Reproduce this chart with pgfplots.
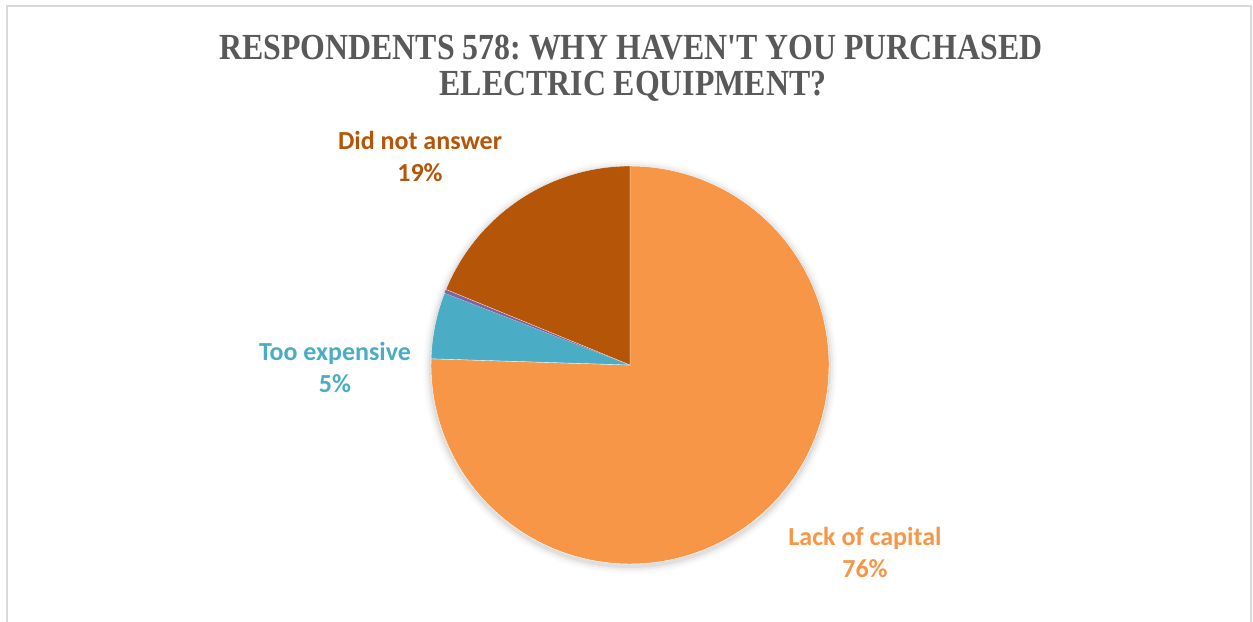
\documentclass[border=0pt]{standalone}
\usepackage{pgfplots}
\pgfplotsset{compat=1.18}
\usepackage{pgfplotstable}
\usepackage{graphicx}
\usepackage{fontspec}
\newfontfamily\titlefont{Liberation Serif}
\newfontfamily\labelfont{Carlito}
\definecolor{cLack}{HTML}{F79646}
\definecolor{cExp}{HTML}{4BACC6}
\definecolor{cOther}{HTML}{8064A2}
\definecolor{cNo}{HTML}{B45507}
\definecolor{cTitle}{HTML}{595959}
\definecolor{cFrame}{HTML}{D9D9D9}
\frenchspacing

\pgfplotstableread{
label value
Lack 75.5
Expensive 5.4
Other 0.3
NoAnswer 18.8
}\piedata

\begin{document}
\begin{tikzpicture}
\pgfplotstablegetelem{0}{value}\of\piedata \let\vA\pgfplotsretval
\pgfplotstablegetelem{1}{value}\of\piedata \let\vB\pgfplotsretval
\pgfplotstablegetelem{2}{value}\of\piedata \let\vC\pgfplotsretval
\pgfplotstablegetelem{3}{value}\of\piedata \let\vD\pgfplotsretval
\pgfmathsetmacro\aA{90}
\pgfmathsetmacro\aB{\aA-3.6*\vA}
\pgfmathsetmacro\aC{\aB-3.6*\vB}
\pgfmathsetmacro\aD{\aC-3.6*\vC}
\pgfmathsetmacro\aE{\aD-3.6*\vD}
\begin{axis}[
  x=1bp, y=1bp, scale only axis,
  at={(0,0)}, anchor=south west,
  xmin=0, xmax=1253, ymin=0, ymax=622,
  hide axis, clip=false,
]
\path[fill=white] (axis cs:0,0) rectangle (axis cs:1253,622);
\draw[cFrame, line width=1.6bp] (axis cs:7,-2) -- (axis cs:7,616) -- (axis cs:1251,616) -- (axis cs:1251,-2);
% soft shadow
\fill[black, opacity=0.015] (axis cs:630,255) circle[radius=207];
\fill[black, opacity=0.025] (axis cs:630,255) circle[radius=205];
\fill[black, opacity=0.035] (axis cs:630,255) circle[radius=203];
\fill[black, opacity=0.05] (axis cs:630,255) circle[radius=201];
% slices
\addplot[fill=cLack, draw=white, line width=0.4bp, domain=\aB:\aA, samples=120, variable=\t]
  ({630+199*cos(\t)}, {257+199*sin(\t)}) -- (axis cs:630,257) -- cycle;
\addplot[fill=cExp, draw=white, line width=0.3bp, domain=\aC:\aB, samples=20, variable=\t]
  ({630+199*cos(\t)}, {257+199*sin(\t)}) -- (axis cs:630,257) -- cycle;
\addplot[fill=cOther, draw=none, domain=\aD:\aC, samples=3, variable=\t]
  ({630+199*cos(\t)}, {257+199*sin(\t)}) -- (axis cs:630,257) -- cycle;
\addplot[fill=cNo, draw=white, line width=0.3bp, domain=\aE:\aD, samples=50, variable=\t]
  ({630+199*cos(\t)}, {257+199*sin(\t)}) -- (axis cs:630,257) -- cycle;
% title
\node[anchor=base, text=cTitle, inner sep=0pt] at (axis cs:631,562)
  {\scalebox{0.91}[1.05]{\titlefont\bfseries\fontsize{35bp}{40bp}\selectfont RESPONDENTS 578: WHY HAVEN'T YOU PURCHASED}};
\node[anchor=base, text=cTitle, inner sep=0pt] at (axis cs:633,526)
  {\scalebox{0.91}[1.05]{\titlefont\bfseries\fontsize{35bp}{40bp}\selectfont ELECTRIC EQUIPMENT?}};
% labels
\node[anchor=base, text=cNo, inner sep=0pt] at (axis cs:420,472) {\labelfont\bfseries\fontsize{26bp}{31bp}\selectfont Did not answer};
\node[anchor=base, text=cNo, inner sep=0pt] at (axis cs:420,440) {\labelfont\bfseries\fontsize{26bp}{31bp}\selectfont 19\%};
\node[anchor=base, text=cExp, inner sep=0pt] at (axis cs:335,262) {\labelfont\bfseries\fontsize{26bp}{31bp}\selectfont Too expensive};
\node[anchor=base, text=cExp, inner sep=0pt] at (axis cs:335,230) {\labelfont\bfseries\fontsize{26bp}{31bp}\selectfont 5\%};
\node[anchor=base, text=cLack, inner sep=0pt] at (axis cs:865,77) {\labelfont\bfseries\fontsize{26bp}{31bp}\selectfont Lack of capital};
\node[anchor=base, text=cLack, inner sep=0pt] at (axis cs:865,45) {\labelfont\bfseries\fontsize{26bp}{31bp}\selectfont 76\%};
\end{axis}
\pgfresetboundingbox
\path (0,0) rectangle (1253bp,622bp);
\end{tikzpicture}
\end{document}
